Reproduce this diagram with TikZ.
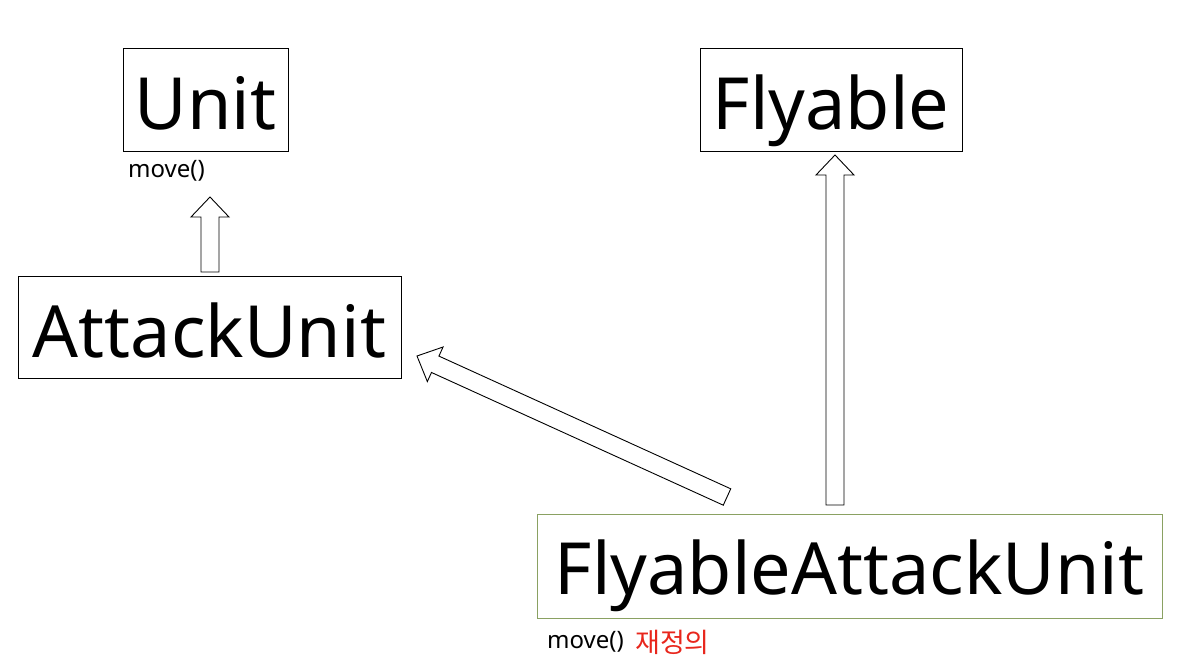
\documentclass[tikz,border=0pt]{standalone}
\usepackage{fontspec}
\setsansfont{Noto Sans}
\newfontfamily\kofont{Noto Sans CJK KR}
\usepackage{xcolor}
\definecolor{ink}{HTML}{000000}
\definecolor{boxgreen}{HTML}{8AA162}
\definecolor{notered}{HTML}{E8261C}
\usetikzlibrary{calc}

% hollow inheritance arrow from tail #1 to tip #2
\newcommand{\inheritarrow}[2]{%
  \coordinate (hb) at ($(#2)!20pt!(#1)$);
  \draw[arrowbody] ($(#1)!9pt!90:(#2)$) -- ($(hb)!9pt!90:(#2)$)
    -- ($(hb)!19pt!90:(#2)$) -- (#2) -- ($(hb)!19pt!-90:(#2)$)
    -- ($(hb)!9pt!-90:(#2)$) -- ($(#1)!9pt!-90:(#2)$) -- cycle;
}

\begin{document}
\begin{tikzpicture}[
  x=1pt, y=-1pt,
  font=\sffamily,
  every node/.style={align=center},
  classbox/.style={rectangle, draw=ink, line width=0.9pt, inner sep=0pt,
    text height=69pt, text depth=9pt,
    font=\sffamily\fontsize{72}{78}\selectfont},
  note/.style={anchor=west, inner sep=0pt, font=\sffamily\fontsize{24}{26}\selectfont},
  arrowbody/.style={draw=ink, fill=white, line width=0.9pt, line join=miter},
]
  \useasboundingbox (0,0) rectangle (1192,669);

  \node[classbox, minimum width=165pt, minimum height=103pt] (unit) at (205.5,99.5) {Unit};
  \node[classbox, minimum width=262pt, minimum height=103pt] (fly) at (831,99.5) {Flyable};
  \node[classbox, minimum width=383pt, minimum height=102pt] (atk) at (209.5,327) {AttackUnit};
  \node[classbox, draw=boxgreen, text depth=12pt, minimum width=625pt, minimum height=104pt] (fau) at (849.5,566) {FlyableAttackUnit};

  \node[note] (unitmove) at (128,171) {move()};
  \node[note] (faumove) at (547,642) {move()};
  \node[note, text=notered, font=\kofont\fontsize{27}{29}\selectfont] (redef) at ([xshift=11pt]faumove.east) {재정의};

  % arrow ends
  \coordinate (atktail) at (210,272);
  \coordinate (unittip) at (210,197);
  \coordinate (fautail) at (835,505);
  \coordinate (flytip) at (835,155);
  \coordinate (diagtail) at (727,497);
  \coordinate (atktip) at (417,356);

  \inheritarrow{atktail}{unittip}
  \inheritarrow{fautail}{flytip}
  \inheritarrow{diagtail}{atktip}
\end{tikzpicture}
\end{document}
